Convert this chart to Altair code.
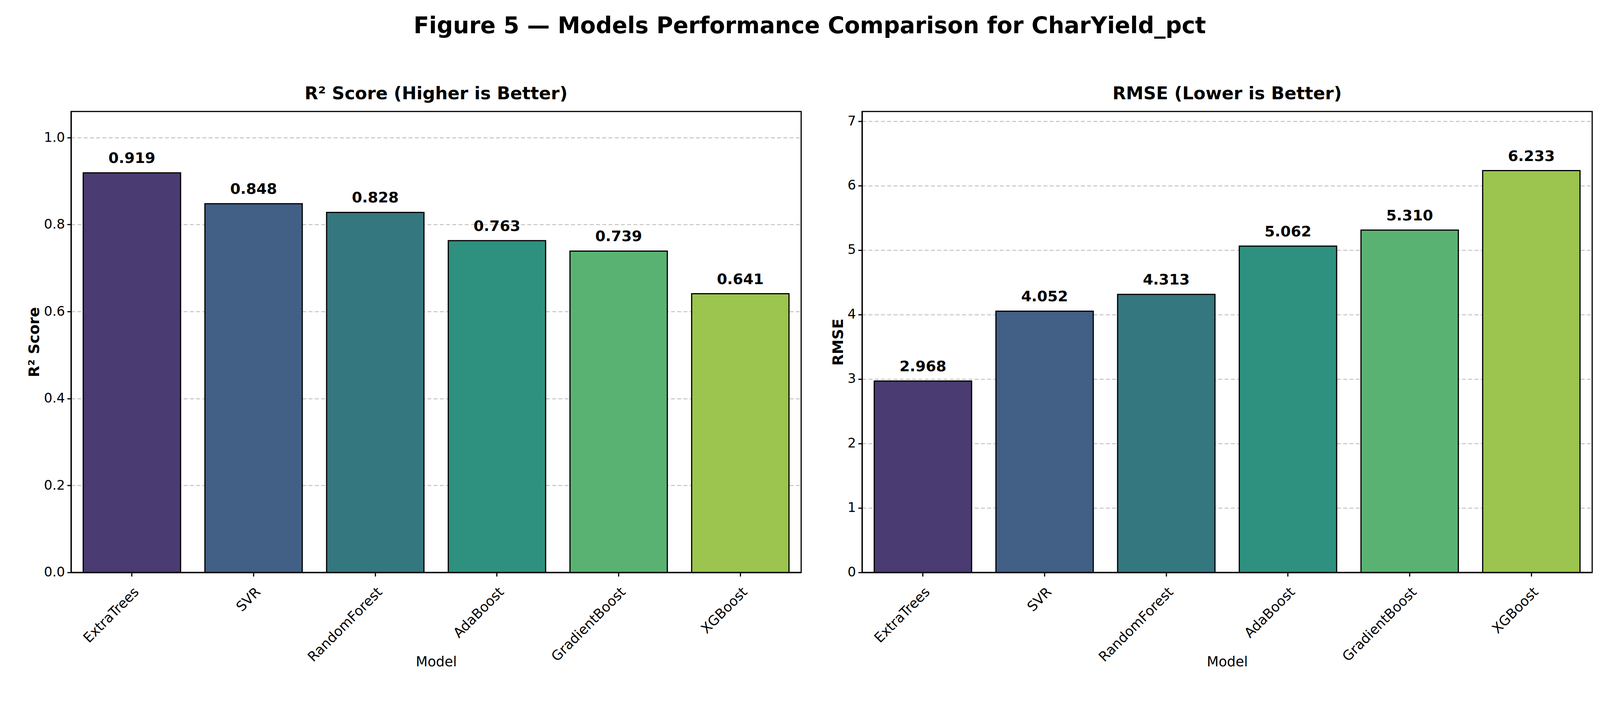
import altair as alt
import pandas as pd

models = ["ExtraTrees", "SVR", "RandomForest", "AdaBoost", "GradientBoost", "XGBoost"]
r2 = [0.919, 0.848, 0.828, 0.763, 0.739, 0.641]
rmse = [2.968, 4.052, 4.313, 5.062, 5.310, 6.233]
colors = ["#4b3b73", "#425f86", "#35777f", "#2e917f", "#5ab272", "#9bc54e"]

df = pd.DataFrame({"Model": models, "R2": r2, "RMSE": rmse})
df["r2_lbl"] = [f"{v:.3f}" for v in r2]
df["rmse_lbl"] = [f"{v:.3f}" for v in rmse]

FONT = "DejaVu Sans"


def panel(field, label, title, ytitle, domain, ticks):
    base = alt.Chart(df).encode(
        x=alt.X("Model:N", sort=models, title="Model",
                scale=alt.Scale(paddingInner=0.2, paddingOuter=0.1),
                axis=alt.Axis(labelAngle=-45, labelAlign="right", labelBaseline="top",
                              labelFontSize=35, titleFontSize=35, titleFontWeight="normal",
                              labelLimit=0, tickSize=10, labelPadding=22, titlePadding=12,
                              grid=False)),
        y=alt.Y(f"{field}:Q", title=ytitle,
                scale=alt.Scale(domain=domain, nice=False),
                axis=alt.Axis(values=ticks, labelFontSize=34, titleFontSize=38,
                              titleFontWeight="bold", tickSize=10, labelPadding=6,
                              grid=True, gridDash=[10, 6], gridColor="#c4c4c4", gridWidth=2.5,
                              format=".1f" if field == "R2" else "d")),
    )
    bars = base.mark_bar(stroke="black", strokeWidth=3).encode(
        color=alt.Color("Model:N", sort=models,
                        scale=alt.Scale(domain=models, range=colors), legend=None)
    )
    text = base.mark_text(dy=-36, fontSize=38, fontWeight="bold", font=FONT).encode(
        text=f"{label}:N")
    return (bars + text).properties(
        width=1870, height=1180,
        title=alt.TitleParams(title, fontSize=45, fontWeight="bold", font=FONT, offset=22),
    )


left = panel("R2", "r2_lbl", "R² Score (Higher is Better)", "R² Score", [0, 1.06],
             [0, 0.2, 0.4, 0.6, 0.8, 1.0])
right = panel("RMSE", "rmse_lbl", "RMSE (Lower is Better)", "RMSE", [0, 7.15],
              [0, 1, 2, 3, 4, 5, 6, 7])

chart = alt.hconcat(left, right, spacing=72).properties(
    title=alt.TitleParams("Figure 5 — Models Performance Comparison for CharYield_pct",
                          fontSize=58, fontWeight="bold", font=FONT, anchor="middle", offset=120),
    background="white",
    padding={"top": 30, "left": 60, "right": 10, "bottom": 10},
).configure_view(stroke="black", strokeWidth=3).configure_axis(
    labelFont=FONT, titleFont=FONT, labelColor="black", titleColor="black",
    domainColor="black", tickColor="black", domainWidth=3, tickWidth=3,
)

chart.save("out.html", embed_options={"renderer": "svg", "actions": False})
